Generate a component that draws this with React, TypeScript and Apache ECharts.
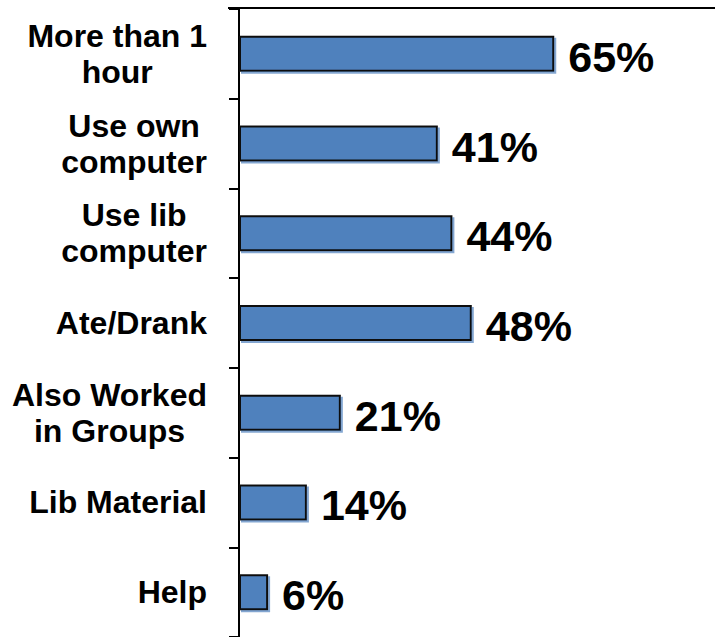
import React, { useEffect, useRef } from "react";
import * as echarts from "echarts";

const categories = [
  "More than 1\nhour",
  "Use own\ncomputer",
  "Use lib\ncomputer",
  "Ate/Drank",
  "Also Worked\nin Groups",
  "Lib Material",
  "Help",
];
const values = [65, 41, 44, 48, 21, 14, 6];
const FONT = "'Liberation Sans', Arial, sans-serif";

export default function App() {
  const ref = useRef<HTMLDivElement>(null);
  useEffect(() => {
    if (!ref.current) return;
    const chart = echarts.init(ref.current, null, { renderer: "svg" });
    chart.setOption({
      animation: false,
      backgroundColor: "#ffffff",
      grid: { left: 239, top: 9, width: 388, height: 633 },
      xAxis: { type: "value", min: 0, max: 80, show: false },
      yAxis: {
        type: "category",
        data: categories,
        inverse: true,
        axisLine: { show: true, lineStyle: { color: "#000", width: 2 } },
        axisTick: { show: true, length: 10, lineStyle: { color: "#000", width: 2 } },
        axisLabel: {
          margin: 32,
          formatter: (v: string) =>
            v
              .split("\n")
              .map((l) => `{c|${l}}`)
              .join("\n"),
          rich: {
            c: {
              align: "center",
              fontFamily: FONT,
              fontWeight: "bold",
              fontSize: 32,
              lineHeight: 36,
              color: "#000",
            },
          },
        },
        splitLine: { show: false },
      },
      series: [
        {
          type: "bar",
          data: values,
          barWidth: 36,
          itemStyle: {
            color: "#4F81BD",
            borderColor: "#111",
            borderWidth: 2,
            shadowColor: "rgba(79,129,189,0.7)",
            shadowOffsetX: 2,
            shadowOffsetY: 2,
            shadowBlur: 0,
          },
          label: {
            show: true,
            position: "right",
            distance: 14,
            offset: [0, 3],
            formatter: "{c}%",
            fontFamily: FONT,
            fontWeight: "bold",
            fontSize: 43,
            color: "#000",
          },
        },
      ],
      graphic: [
        {
          type: "line",
          shape: { x1: 228, y1: 8, x2: 715, y2: 8 },
          style: { stroke: "#000", lineWidth: 2 },
        },
      ],
    });
    return () => chart.dispose();
  }, []);
  return (
    <div
      ref={ref}
      style={{ position: "fixed", left: 0, top: 0, width: 715, height: 637 }}
    />
  );
}
